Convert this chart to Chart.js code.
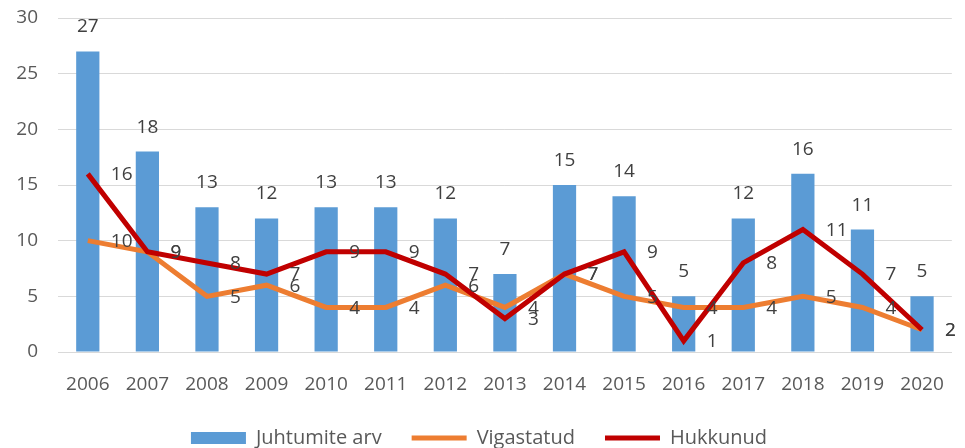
<!DOCTYPE html>
<html>
<head>
<meta charset="utf-8">
<script src="https://cdn.jsdelivr.net/npm/chart.js@4/dist/chart.umd.min.js"></script>
<style>
  html, body { margin: 0; padding: 0; background: #fff; }
  #wrap { width: 965px; height: 448px; }
</style>
</head>
<body>
<div id="wrap"><canvas id="chart"></canvas></div>
<script>
const years = ['2006', '2007', '2008', '2009', '2010', '2011', '2012', '2013', '2014', '2015', '2016', '2017', '2018', '2019', '2020'];
const juhtumid = [27, 18, 13, 12, 13, 13, 12, 7, 15, 14, 5, 12, 16, 11, 5];
const vigastatud = [10, 9, 5, 6, 4, 4, 6, 4, 7, 5, 4, 4, 5, 4, 2];
const hukkunud = [16, 9, 8, 7, 9, 9, 7, 3, 7, 9, 1, 8, 11, 7, 2];
const yTicks = [0, 5, 10, 15, 20, 25, 30];

const FONT = "'Open Sans', 'Liberation Sans', sans-serif";
const colors = ['#5B9BD5', '#ED7D31', '#C00000'];

// simple value labels (bars above, lines to the right)
const valueLabels = {
  id: 'valueLabels',
  afterDatasetsDraw(chart) {
    const ctx = chart.ctx;
    ctx.save();
    ctx.font = '19px ' + FONT;
    ctx.fillStyle = '#404040';
    chart.data.datasets.forEach((ds, i) => {
      const meta = chart.getDatasetMeta(i);
      meta.data.forEach((el, j) => {
        const v = ds.data[j];
        if (ds.type === 'bar') {
          ctx.textAlign = 'center';
          ctx.textBaseline = 'alphabetic';
          ctx.fillText(v, el.x, el.y - 19);
        } else {
          ctx.textAlign = 'left';
          ctx.textBaseline = 'middle';
          ctx.fillText(v, el.x + 23, el.y + 1);
        }
      });
    });
    ctx.restore();
  }
};

new Chart(document.getElementById('chart'), {
  data: {
    labels: years,
    datasets: [
      {
        type: 'bar',
        label: 'Juhtumite arv',
        data: juhtumid,
        backgroundColor: colors[0],
        borderWidth: 0,
        barPercentage: 0.39,
        categoryPercentage: 1,
        order: 3
      },
      {
        type: 'line',
        label: 'Vigastatud',
        data: vigastatud,
        borderColor: colors[1],
        backgroundColor: colors[1],
        borderWidth: 5,
        pointRadius: 0,
        tension: 0,
        order: 2
      },
      {
        type: 'line',
        label: 'Hukkunud',
        data: hukkunud,
        borderColor: colors[2],
        backgroundColor: colors[2],
        borderWidth: 5,
        pointRadius: 0,
        tension: 0,
        order: 1
      }
    ]
  },
  options: {
    responsive: true,
    maintainAspectRatio: false,
    animation: false,
    layout: { padding: { top: 18, right: 7, left: 0, bottom: -10 } },
    plugins: {
      tooltip: { enabled: false },
      legend: {
        position: 'bottom',
        labels: {
          font: { family: FONT, size: 20 },
          color: '#595959',
          usePointStyle: true,
          pointStyleWidth: 55,
          boxHeight: 12,
          padding: 30,
          sort: (a, b) => a.datasetIndex - b.datasetIndex,
          generateLabels(chart) {
            const items = Chart.defaults.plugins.legend.labels.generateLabels(chart);
            items.forEach(it => {
              const i = it.datasetIndex;
              it.pointStyle = i === 0 ? 'rect' : 'line';
              it.fillStyle = colors[i];
              it.strokeStyle = colors[i];
              it.lineWidth = i === 0 ? 0 : 5;
            });
            return items;
          }
        }
      }
    },
    scales: {
      x: {
        grid: { display: false, drawTicks: false },
        border: { display: true, color: '#d9d9d9', width: 1 },
        ticks: { font: { family: FONT, size: 19 }, color: '#595959', padding: 21, maxRotation: 0 },
        afterFit(scale) { scale.height = 46; }
      },
      y: {
        min: 0,
        max: 30,
        afterBuildTicks(scale) { scale.ticks = yTicks.map(v => ({ value: v })); },
        grid: { color: '#d9d9d9', lineWidth: 1, drawTicks: false },
        border: { display: false },
        ticks: { font: { family: FONT, size: 19 }, color: '#595959', padding: 20 },
        afterFit(scale) {
          scale.width = 58;
          scale.paddingTop = 0;
          scale.paddingBottom = 0;
        }
      }
    }
  },
  plugins: [valueLabels]
});
</script>
</body>
</html>
